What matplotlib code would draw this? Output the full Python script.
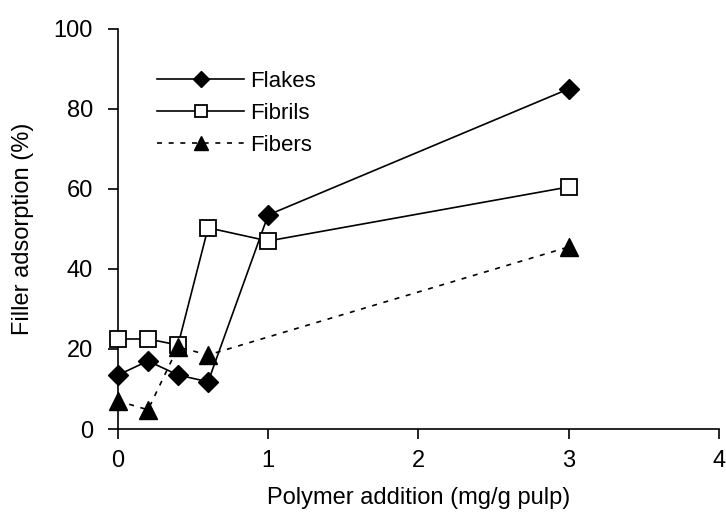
import matplotlib.pyplot as plt

plt.rcParams['font.family'] = ['Liberation Sans', 'DejaVu Sans']

# polymer dose (mg/g pulp)
dose = [0, 0.2, 0.4, 0.6, 1, 3]
dose_fibers = [0, 0.2, 0.4, 0.6, 3]

# filler adsorption (%)
flakes = [13.5, 17, 13.5, 11.8, 53.5, 85]
fibrils = [22.5, 22.5, 21, 50.3, 47, 60.5]
fibers = [7, 4.8, 20.5, 18.5, 45.5]

fig = plt.figure(figsize=(7.26, 5.17), dpi=100)
ax = fig.add_axes([0.1625, 0.1702, 0.8275, 0.7738])

ax.plot(dose, flakes, color='black', lw=1.2, marker='D', ms=10.5,
        mfc='black', mec='black', label='Flakes', clip_on=False, zorder=3)
ax.plot(dose, fibrils, color='black', lw=1.2, marker='s', ms=11.5,
        mfc='white', mec='black', mew=1.3, label='Fibrils', clip_on=False, zorder=3)
ax.plot(dose_fibers, fibers, color='black', lw=1.2, ls=(0, (3, 4)), marker='^', ms=13,
        mfc='black', mec='black', label='Fibers', clip_on=False, zorder=3)

ax.set_xlim(0, 4)
ax.set_ylim(0, 100)
ax.set_xticks([0, 1, 2, 3, 4])
ax.set_xticklabels(['0', '1', '2', '3', '4'])
ax.set_yticks([0, 20, 40, 60, 80, 100])

ax.spines['top'].set_visible(False)
ax.spines['right'].set_visible(False)
ax.spines['left'].set_linewidth(1.2)
ax.spines['bottom'].set_linewidth(1.2)
ax.tick_params(direction='out', length=7, width=1.2, labelsize=17, pad=8)
ax.tick_params(axis='y', pad=11)

ax.set_xlabel('Polymer addition (mg/g pulp)', fontsize=17, labelpad=11)
ax.set_ylabel('Filler adsorption (%)', fontsize=17, labelpad=14)

leg = ax.legend(loc='upper left', bbox_to_anchor=(0.032, 0.945), frameon=False,
                fontsize=16, handlelength=3.9, handletextpad=0.3,
                labelspacing=0.5, markerscale=0.75)

fig.savefig('out.png', dpi=100)
